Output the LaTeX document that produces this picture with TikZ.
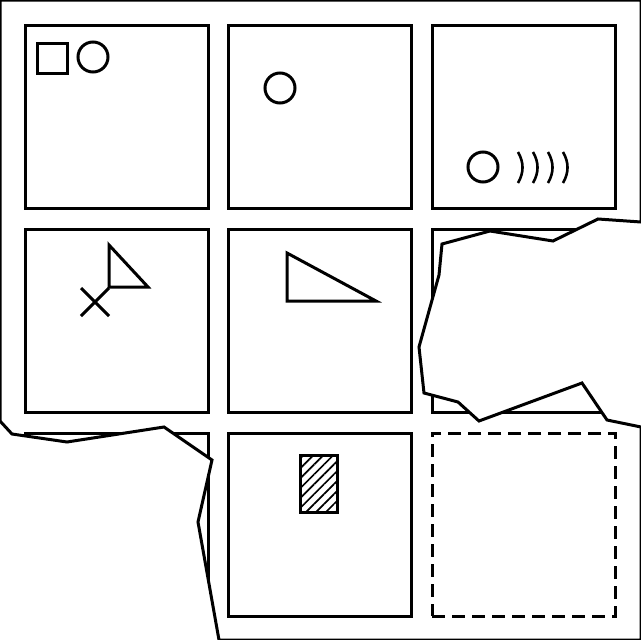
\documentclass[tikz,border=0pt]{standalone}
\usetikzlibrary{patterns.meta}

\begin{document}
\begin{tikzpicture}[
    x=1pt, y=-1pt,
    line width=3pt,
    cell/.style={draw, rectangle, minimum width=183pt, minimum height=183pt,
                 inner sep=0pt},
    dashcell/.style={cell, dash pattern=on 13pt off 7pt},
    ring/.style={draw, circle, minimum size=30pt, inner sep=0pt},
    sqbox/.style={draw, rectangle, minimum width=30pt, minimum height=30pt,
                  inner sep=0pt},
    hatchbox/.style={draw, rectangle, minimum width=37pt, minimum height=57pt,
                     inner sep=0pt,
                     pattern={Lines[angle=45, distance=7pt, line width=1.7pt]}},
    wave/.style={line width=2.6pt, bend left=30},
    torn/.style={line join=miter}
  ]
  \useasboundingbox (0,0) rectangle (641,640);

  % Row 0
  \node[cell] (c00) at (116.5, 116.5) {};
  \node[cell] (c01) at (320, 116.5) {};
  \node[cell] (c02) at (523.5, 116.5) {};

  % Row 1
  \node[cell] (c10) at (116.5, 320.5) {};
  \node[cell] (c11) at (320, 320.5) {};
  \node[cell] (c12) at (523.5, 320.5) {};

  % Row 2
  \node[cell] (c20) at (116.5, 524.5) {};
  \node[cell] (c21) at (320, 524.5) {};
  \node[dashcell] (c22) at (523.5, 524.5) {};

  % Cell contents
  \node[sqbox] (sq) at (52, 58) {};
  \node[ring] (ringA) at (93, 57) {};
  \node[ring] (ringB) at (280, 88) {};
  \node[ring] (ringC) at (483, 167) {};
  \foreach \i in {0,...,3}
    \draw[wave] (518+15*\i, 152) to (518+15*\i, 183);

  \draw (109,245) -- (109,287) -- (148,287) -- cycle;
  \draw (81,288) -- (109,316) (81,316) -- (109,288);

  \draw (287,253) -- (287,301) -- (376,301) -- cycle;

  \node[hatchbox] (hatch) at (318.5, 483.5) {};

  % Torn away parts
  \fill[white] (641,222) -- (598,219) -- (553,241) -- (490,231) -- (442,244)
    -- (439,275) -- (419,347) -- (424,393) -- (458,402) -- (479,421)
    -- (582,383) -- (607,420) -- (641,427) -- cycle;
  \fill[white] (219,640) -- (198,522) -- (212,460) -- (164,427) -- (67,442)
    -- (12,434) -- (0,421) -- (0,640) -- cycle;

  % Sheet outline
  \draw[torn] (0,0) -- (641,0) -- (641,222) -- (598,219) -- (553,241)
    -- (490,231) -- (442,244) -- (439,275) -- (419,347) -- (424,393)
    -- (458,402) -- (479,421) -- (582,383) -- (607,420) -- (641,427)
    -- (641,640) -- (219,640) -- (198,522) -- (212,460) -- (164,427)
    -- (67,442) -- (12,434) -- (0,421) -- cycle;
\end{tikzpicture}
\end{document}
